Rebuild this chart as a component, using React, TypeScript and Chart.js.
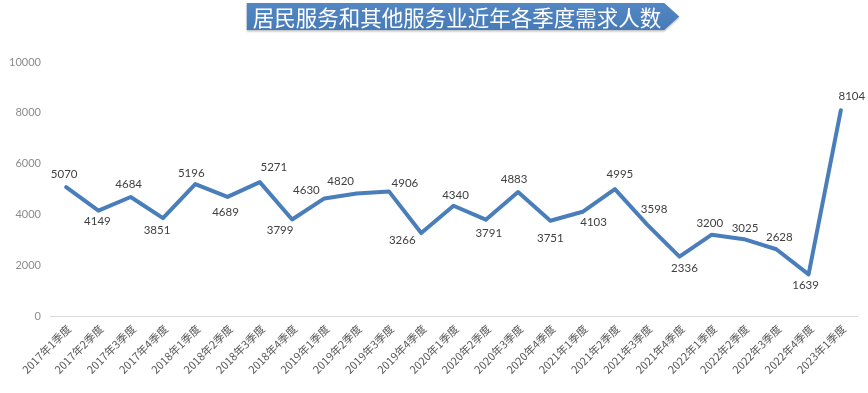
import React, { useEffect, useRef } from "react";
import { Chart, registerables } from "chart.js";

Chart.register(...registerables);

const TITLE = "居民服务和其他服务业近年各季度需求人数";

const categories = [
  "2017年1季度", "2017年2季度", "2017年3季度", "2017年4季度",
  "2018年1季度", "2018年2季度", "2018年3季度", "2018年4季度",
  "2019年1季度", "2019年2季度", "2019年3季度", "2019年4季度",
  "2020年1季度", "2020年2季度", "2020年3季度", "2020年4季度",
  "2021年1季度", "2021年2季度", "2021年3季度", "2021年4季度",
  "2022年1季度", "2022年2季度", "2022年3季度", "2022年4季度",
  "2023年1季度",
];

const demand = [
  5070, 4149, 4684, 3851, 5196, 4689, 5271, 3799, 4630, 4820, 4906, 3266,
  4340, 3791, 4883, 3751, 4103, 4995, 3598, 2336, 3200, 3025, 2628, 1639, 8104,
];

const yMin = 0;
const yMax = 10000;
const yStep = 2000;

// label placement relative to each point (style only)
const labelOffsets: [number, number][] = [
  [-2, -13], [-1, 11], [-2, -13], [-6, 12], [-4, -11], [-2, 15], [14, -15],
  [-12, 11], [-18, -8], [-16, -12], [16, -8], [-19, 7], [2, -10], [3, 14],
  [-4, -13], [0, 18], [11, 11], [5, -15], [7, -15], [5, 12], [-2, -11],
  [1, -11], [3, -12], [-3, 11], [11, -14],
];

const titleBanner = {
  id: "titleBanner",
  afterDraw(chart: any) {
    const ctx = chart.ctx;
    ctx.save();
    const fontSize = 21.5;
    ctx.font = `${fontSize}px "Noto Sans CJK SC", sans-serif`;
    const w = ctx.measureText(TITLE).width;
    const cx = 457;
    const cy = 17;
    const left = cx - w / 2 - 6;
    const right = cx + w / 2 + 3;
    const top = 3;
    const bottom = 30;
    const tip = right + 15;
    ctx.beginPath();
    ctx.moveTo(left, top);
    ctx.lineTo(right, top);
    ctx.lineTo(tip, (top + bottom) / 2);
    ctx.lineTo(right, bottom);
    ctx.lineTo(left, bottom);
    ctx.closePath();
    const g = ctx.createLinearGradient(0, top, 0, bottom);
    g.addColorStop(0, "#5387c4");
    g.addColorStop(1, "#477bb8");
    ctx.fillStyle = g;
    ctx.shadowColor = "rgba(0,0,0,0.25)";
    ctx.shadowOffsetY = 1.5;
    ctx.shadowBlur = 2;
    ctx.fill();
    ctx.shadowColor = "transparent";
    ctx.fillStyle = "#ffffff";
    ctx.textAlign = "center";
    ctx.textBaseline = "middle";
    ctx.fillText(TITLE, cx, cy + 1);
    ctx.restore();
  },
};

const dataLabels = {
  id: "dataLabels",
  afterDatasetsDraw(chart: any) {
    const ctx = chart.ctx;
    const meta = chart.getDatasetMeta(0);
    ctx.save();
    ctx.font = '11.5px Lato, "Open Sans", sans-serif';
    ctx.fillStyle = "#404040";
    ctx.textAlign = "center";
    ctx.textBaseline = "middle";
    meta.data.forEach((pt: any, i: number) => {
      const [dx, dy] = labelOffsets[i] || [0, -12];
      ctx.fillText(String(demand[i]), pt.x + dx, pt.y + dy);
    });
    ctx.restore();
  },
};

export default function App() {
  const ref = useRef<HTMLCanvasElement | null>(null);

  useEffect(() => {
    if (!ref.current) return;
    const chart = new Chart(ref.current, {
      type: "line",
      data: {
        labels: categories,
        datasets: [
          {
            label: "需求人数",
            data: demand,
            borderColor: "#4a7ebb",
            backgroundColor: "#4a7ebb",
            borderWidth: 4,
            pointRadius: 0,
            pointHoverRadius: 0,
            tension: 0,
            borderJoinStyle: "round",
            borderCapStyle: "round",
          },
        ],
      },
      options: {
        animation: false,
        responsive: true,
        maintainAspectRatio: false,
        layout: { padding: { top: 62, right: 11, left: 0, bottom: 0 } },
        plugins: {
          legend: { display: false },
          title: { display: false },
          tooltip: { enabled: false },
        },
        scales: {
          x: {
            type: "category",
            offset: true,
            grid: { display: false, drawTicks: false },
            border: { display: true, color: "#d9d9d9", width: 1 },
            ticks: {
              autoSkip: false,
              minRotation: 45,
              maxRotation: 45,
              padding: 6,
              labelOffset: 3,
              color: "#595959",
              font: { family: '"Noto Sans CJK SC", Lato, sans-serif', size: 11 },
            },
            afterFit(scale: any) {
              scale.height = 77;
            },
          },
          y: {
            min: yMin,
            max: yMax,
            grid: { display: false, drawTicks: false },
            border: { display: false },
            ticks: {
              stepSize: yStep,
              padding: 9,
              color: "#8c8c8c",
              font: { family: 'Lato, "Open Sans", sans-serif', size: 11 },
              callback: (v: any) => String(v),
            },
            afterFit(scale: any) {
              scale.width = 50;
            },
          },
        },
      },
      plugins: [titleBanner, dataLabels],
    });
    return () => chart.destroy();
  }, []);

  return (
    <div style={{ position: "fixed", left: 0, top: 0, width: 868, height: 393, background: "#ffffff" }}>
      <canvas ref={ref} />
    </div>
  );
}
